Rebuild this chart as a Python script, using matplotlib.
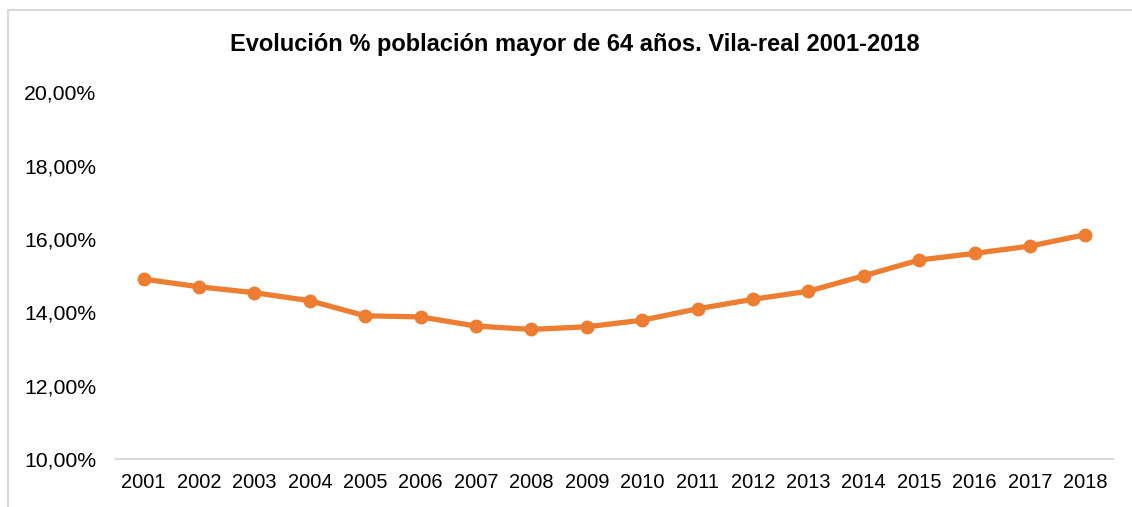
import matplotlib
matplotlib.use("Agg")
import matplotlib.pyplot as plt
from matplotlib.lines import Line2D

plt.rcParams['font.family'] = ['Liberation Sans', 'DejaVu Sans']

years = ["2001", "2002", "2003", "2004", "2005", "2006", "2007", "2008", "2009",
         "2010", "2011", "2012", "2013", "2014", "2015", "2016", "2017", "2018"]
values = [14.91, 14.70, 14.54, 14.32, 13.91, 13.88, 13.63, 13.54, 13.61,
          13.79, 14.10, 14.36, 14.58, 15.00, 15.43, 15.61, 15.81, 16.12]
yticks = [10, 12, 14, 16, 18, 20]
ytick_labels = ["10,00%", "12,00%", "14,00%", "16,00%", "18,00%", "20,00%"]
title = "Evolución % población mayor de 64 años. Vila-real 2001-2018"

W, H = 1132, 507
fig = plt.figure(figsize=(W / 100, H / 100), dpi=100)
ax = fig.add_axes([116 / W, 1 - 459.3 / H, (1113 - 116) / W, (459.3 - 92.3) / H])

x = list(range(len(years)))
ax.plot(x, values, color="#ED7D31", lw=3.8, marker="o", markersize=9,
        solid_capstyle="round", zorder=3)

ax.set_xlim(-0.5, len(years) - 0.5)
ax.set_ylim(10, 20)
ax.set_yticks(yticks)
ax.set_yticklabels(ytick_labels)
ax.set_xticks(x)
ax.set_xticklabels(years)
ax.tick_params(axis="both", length=0, colors="#000000")
ax.tick_params(axis="y", pad=14, labelsize=15.3)
ax.tick_params(axis="x", pad=10, labelsize=14.4)
for s in ["top", "right", "left"]:
    ax.spines[s].set_visible(False)
ax.spines["bottom"].set_color("#D9D9D9")
ax.spines["bottom"].set_linewidth(1.5)

fig.text(575 / W, 1 - 45 / H, title, ha="center", va="center",
         fontsize=17, fontweight="bold")

# chart frame
fig.add_artist(Line2D([8 / W, 8 / W], [0, 1 - 10 / H], transform=fig.transFigure,
                      color="#D9D9D9", lw=1.5))
fig.add_artist(Line2D([8 / W, 1], [1 - 10 / H, 1 - 10 / H], transform=fig.transFigure,
                      color="#D9D9D9", lw=1.5))

fig.savefig("out.png", dpi=100)
